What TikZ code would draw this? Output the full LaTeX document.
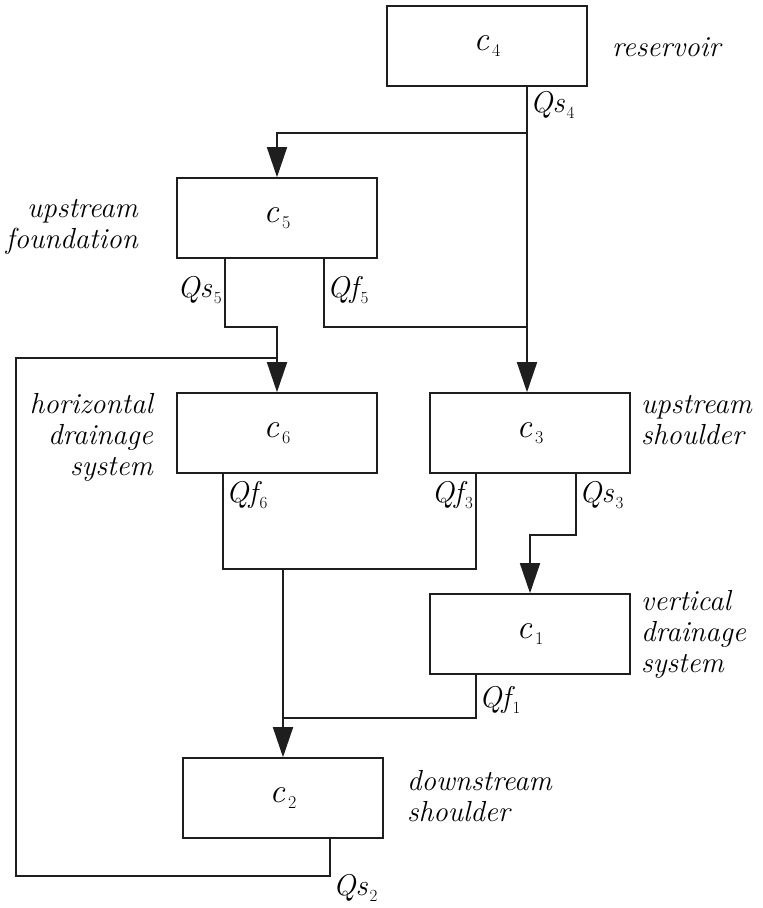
\documentclass[tikz,border=0pt]{standalone}
\usepackage{fontspec}
\usetikzlibrary{arrows.meta}
\definecolor{ink}{HTML}{1E1E1E}

% compartment symbol c_i and flow symbols Qs_i / Qf_i
\newcommand\cname[1]{{\fontsize{34}{34}\selectfont\itshape c}\kern3pt\raisebox{-6pt}{\fontsize{18}{18}\selectfont #1}}
\newcommand\qname[2]{{\fontsize{30}{30}\selectfont\itshape Q#1}\kern2pt\raisebox{-6pt}{\fontsize{17}{17}\selectfont #2}}

\tikzset{
  unit/.style={draw=ink, line width=1.6pt, minimum width=200pt, minimum height=80pt, inner sep=0pt},
  wire/.style={draw=ink, line width=1.6pt},
  feed/.style={wire, -{Triangle[width=20pt,length=30pt]}},
  lbl/.style={font=\fontsize{29}{31}\selectfont\itshape, inner sep=0pt},
  flux/.style={inner sep=0pt},
}

\begin{document}
\begin{tikzpicture}[x=1pt,y=-1pt]
\useasboundingbox (0,0) rectangle (763,908);

% compartments
\node[unit] (c4) at (487,46)  {\cname{4}};
\node[unit] (c5) at (277,218) {\cname{5}};
\node[unit] (c6) at (277,433) {\cname{6}};
\node[unit] (c3) at (530,433) {\cname{3}};
\node[unit] (c1) at (530,634) {\cname{1}};
\node[unit] (c2) at (283,798) {\cname{2}};

% reservoir outflow
\coordinate (q4) at ([xshift=40pt]c4.south);
\draw[feed] (q4) -- ++(0,46) -| (c5.north);
\draw[feed] (q4) -- (q4 |- c3.north);

% upstream foundation outflows
\draw[feed] ([xshift=-52pt]c5.south) -- ++(0,68) -| (c6.north);
\draw[wire] ([xshift=47pt]c5.south) -- ++(0,68) coordinate (t5) -- (t5 -| q4);

% drainage and shoulder flows towards the downstream shoulder
\draw[wire] ([xshift=-54pt]c6.south) -- ++(0,95) coordinate (b6) -| ([xshift=-54pt]c3.south);
\draw[feed] (b6 -| c2.north) -- (c2.north);
\draw[feed] ([xshift=46pt]c3.south) -- ++(0,61) -| (c1.north);
\draw[wire] ([xshift=-54pt]c1.south) -- ++(0,43) coordinate (b1) -- (b1 -| c2.north);

% return flow from the downstream shoulder
\draw[wire] ([xshift=47pt]c2.south) -- ++(0,37) -- ++(-314,0) |- ([yshift=34pt]c6.north);

% flow labels
\node[flux, anchor=west] (lqs4) at (530,105) {\qname{s}{4}};
\node[flux, anchor=east] (lqs5) at (222,290) {\qname{s}{5}};
\node[flux, anchor=west] (lqf5) at (327,290) {\qname{f}{5}};
\node[flux, anchor=west] (lqf6) at (226,495) {\qname{f}{6}};
\node[flux, anchor=east] (lqf3) at (473,495) {\qname{f}{3}};
\node[flux, anchor=west] (lqs3) at (579,495) {\qname{s}{3}};
\node[flux, anchor=west] (lqf1) at (479,700) {\qname{f}{1}};
\node[flux, anchor=west] (lqs2) at (333,888) {\qname{s}{2}};

% compartment names
\node[lbl, anchor=west] (tres) at (612,47) {reservoir};
\node[lbl, anchor=east, align=right] (tuf) at (138,227) {upstream\\foundation};
\node[lbl, anchor=east, align=right] (thd) at (153,437) {horizontal\\drainage\\system};
\node[lbl, anchor=west, align=left] (tus) at (641,420) {upstream\\shoulder};
\node[lbl, anchor=west, align=left] (tvd) at (641,634) {vertical\\drainage\\system};
\node[lbl, anchor=west, align=left] (tds) at (407,796) {downstream\\shoulder};
\end{tikzpicture}
\end{document}
